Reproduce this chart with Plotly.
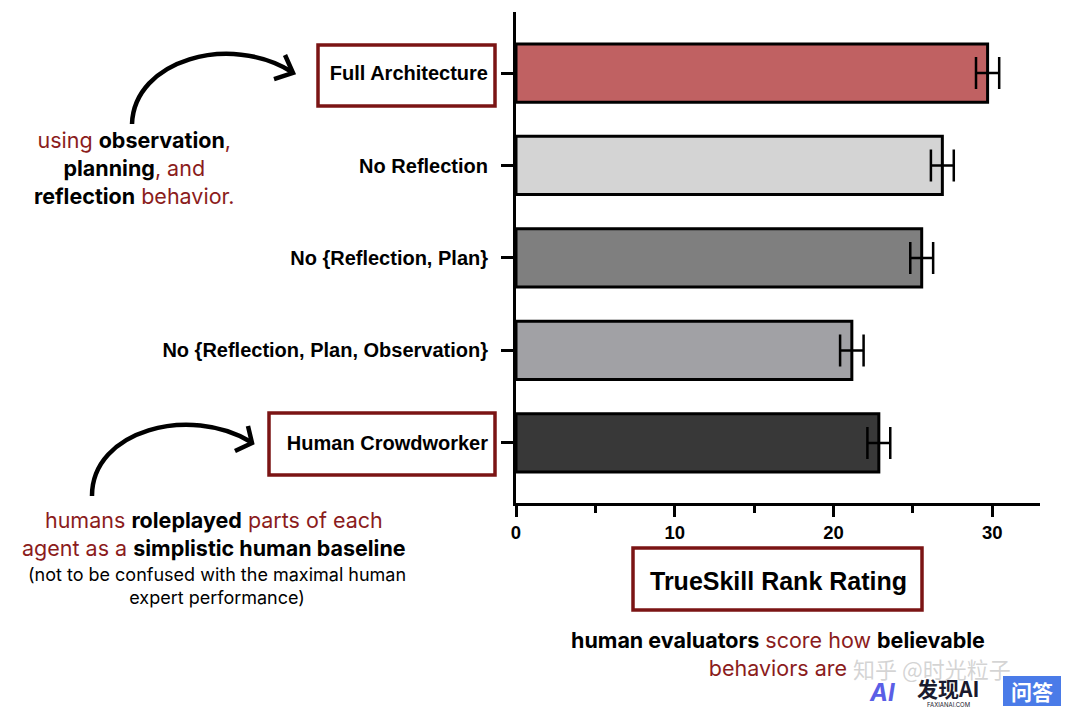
import plotly.graph_objects as go

# ---------------- data ----------------
categories = ["Full Architecture", "No Reflection", "No {Reflection, Plan}",
              "No {Reflection, Plan, Observation}", "Human Crowdworker"]
ratings = [29.7, 26.85, 25.55, 21.15, 22.85]
errors = [0.73, 0.72, 0.72, 0.74, 0.72]
bar_colors = ["#c06162", "#d4d4d4", "#7f7f7f", "#a1a1a5", "#383838"]
x_ticks = [0, 10, 20, 30]

OFF = 8                      # page body margin
W, H = 1076 - 2 * OFF, 716 - 2 * OFF
L, R, T, B = 516, 1040, 12, 503   # plot area in reference pixels

def px(x):
    return (x - L) / (R - L)

def py(y):
    return (B - y) / (B - T)

RED = "#8b1c1c"
BOX = "#7b1414"
ARIAL = "Liberation Sans, Arial, sans-serif"

fig = go.Figure()
fig.add_trace(go.Bar(
    y=categories, x=ratings, orientation="h",
    marker=dict(color=bar_colors, line=dict(color="black", width=3)),
    width=0.63,
    error_x=dict(type="data", array=errors, visible=True, color="black",
                 thickness=2.5, width=16),
    showlegend=False, hoverinfo="skip",
))

fig.update_layout(
    width=W, height=H,
    margin=dict(l=L - OFF, r=W - (R - OFF), t=T - OFF, b=H - (B - OFF), pad=0),
    paper_bgcolor="white", plot_bgcolor="white",
    font=dict(family=ARIAL, color="black"),
    xaxis=dict(range=[0, 33], tickvals=x_ticks, ticktext=[f"<b>{v}</b>" for v in x_ticks],
               showline=True, linecolor="black", linewidth=3,
               ticks="outside", ticklen=11, tickwidth=3, tickcolor="black",
               minor=dict(tick0=0, dtick=5, ticks="outside", ticklen=7,
                          tickwidth=3, tickcolor="black"),
               showgrid=False, zeroline=False,
               tickfont=dict(size=18.5, family=ARIAL)),
    yaxis=dict(type="category", categoryorder="array", categoryarray=categories,
               range=[4.65, -0.66],
               tickvals=categories, ticktext=[f"<b>{c}</b>" for c in categories],
               showline=True, linecolor="black", linewidth=3,
               ticks="outside", ticklen=12, tickwidth=3, tickcolor="black",
               showgrid=False, zeroline=False, ticklabelstandoff=9,
               tickfont=dict(size=20, family=ARIAL)),
)

shapes = []
# boxes around highlighted labels
for (x0, y0, x1, y1) in [(318, 45, 495, 106), (269, 413, 495, 475), (633, 548, 922, 610)]:
    shapes.append(dict(type="rect", xref="paper", yref="paper",
                       x0=px(x0), x1=px(x1), y0=py(y0), y1=py(y1),
                       line=dict(color=BOX, width=3.5), fillcolor="rgba(0,0,0,0)"))

def curve(p0, c1, c2, p1):
    pts = [p0, c1, c2, p1]
    return "M {:.4f},{:.4f} C {:.4f},{:.4f} {:.4f},{:.4f} {:.4f},{:.4f}".format(
        *[v for p in pts for v in (px(p[0]), py(p[1]))])

def polyline(pts):
    return "M " + " L ".join("{:.4f},{:.4f}".format(px(a), py(b)) for a, b in pts)

arrow_line = dict(color="black", width=4.5)
shapes.append(dict(type="path", xref="paper", yref="paper",
                   path=curve((132, 124), (134, 60), (230, 33), (292, 72)), line=arrow_line))
shapes.append(dict(type="path", xref="paper", yref="paper",
                   path=polyline([(285, 55), (293, 73), (274, 79)]), line=arrow_line))
shapes.append(dict(type="path", xref="paper", yref="paper",
                   path=curve((92, 496), (92, 430), (190, 405), (251, 442)), line=arrow_line))
shapes.append(dict(type="path", xref="paper", yref="paper",
                   path=polyline([(248, 426), (252, 443), (235, 451)]), line=arrow_line))
# logo box
shapes.append(dict(type="rect", xref="paper", yref="paper",
                   x0=px(1003), x1=px(1061), y0=py(676), y1=py(706),
                   line=dict(width=0), fillcolor="#4a7be8"))
fig.update_layout(shapes=shapes)

INTER = "Inter, Noto Sans, sans-serif"

def r(t):
    return f"<span style='color:{RED}'>{t}</span>"

ann = []
ann.append(dict(x=px(134), y=py(168), text=(
    r("using ") + "<b>observation</b>" + r(",") + "<br>" +
    "<b>planning</b>" + r(", and") + "<br>" +
    "<b>reflection</b>" + r(" behavior.")),
    font=dict(family=INTER, size=21.5, color="black"), align="center"))
ann.append(dict(x=px(214), y=py(534), text=(
    r("humans ") + "<b>roleplayed</b>" + r(" parts of each") + "<br>" +
    r("agent as a ") + "<b>simplistic human baseline</b>"),
    font=dict(family=INTER, size=21.5, color="black"), align="center"))
ann.append(dict(x=px(217), y=py(586), text=(
    "(not to be confused with the maximal human<br>expert performance)"),
    font=dict(family=INTER, size=18, color="black"), align="center"))
ann.append(dict(x=px(778), y=py(581), text="<b>TrueSkill Rank Rating</b>",
                font=dict(family=ARIAL, size=25, color="black")))
ann.append(dict(x=px(778), y=py(654), text=(
    "<b>human evaluators</b>" + r(" score how ") + "<b>believable</b><br>" + r("behaviors are")),
    font=dict(family=INTER, size=21.5, color="black"), align="center"))
# watermark / logo
ann.append(dict(x=px(932), y=py(668), text="知乎 @时光粒子",
                font=dict(family="Noto Sans CJK SC", size=22, color="rgba(170,170,170,0.5)")))
ann.append(dict(x=px(882), y=py(692), text="<b><i>AI</i></b>",
                font=dict(family=INTER, size=24, color="#5a5ee6")))
ann.append(dict(x=px(948), y=py(688), text="<b>发现AI</b>",
                font=dict(family="Noto Sans CJK SC", size=21, color="#1a1a2e")))
ann.append(dict(x=px(948), y=py(704), text="FAXIANAI.COM",
                font=dict(family=INTER, size=6, color="#1a1a2e")))
ann.append(dict(x=px(1032), y=py(691), text="<b>问答</b>",
                font=dict(family="Noto Sans CJK SC", size=21, color="white")))
for a in ann:
    a.update(xref="paper", yref="paper", showarrow=False, xanchor="center", yanchor="middle")
fig.update_layout(annotations=ann)

fig.write_html("out.html")
